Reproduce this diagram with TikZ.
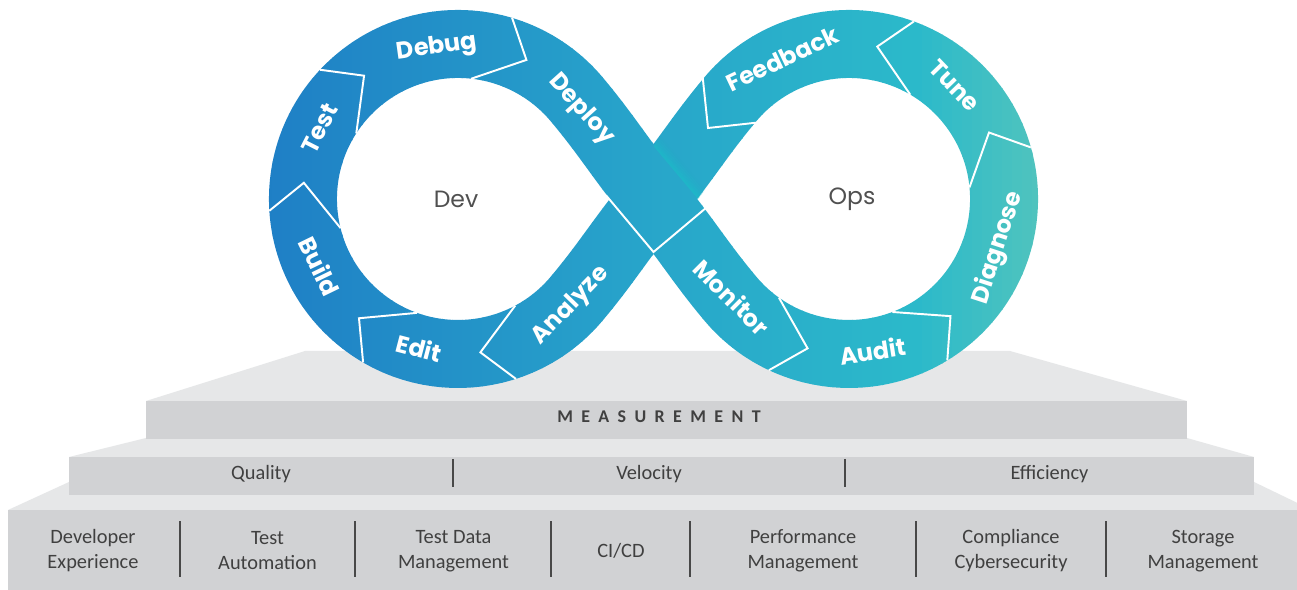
\documentclass[tikz,border=0pt]{standalone}
\usepackage{fontspec}
\setmainfont{Carlito}
\newfontfamily\labfont{Poppins}
\definecolor{topface}{RGB}{230,231,232}
\definecolor{frontface}{RGB}{209,210,212}
\definecolor{steptext}{RGB}{64,64,64}
\definecolor{sepgray}{RGB}{72,72,72}
\definecolor{devgray}{RGB}{80,80,80}
\definecolor{shadowc}{RGB}{24,192,200}
\def\loopPath{(653.5,-199) to[out=230,in=50] (576.7,-298.6) arc[start angle=-40,end angle=-320,radius=155] to[out=-50,in=130] (653.5,-199) to[out=-50,in=130] (730.3,-298.6) arc[start angle=220,end angle=500,radius=155] to[out=230,in=50] (653.5,-199)}
\begin{document}
\begin{tikzpicture}[x=0.02cm,y=0.02cm,
  band/.style={line width=1.36cm},
  sep/.style={draw=white, line width=1.1pt, line join=miter},
  lab/.style={text=white, font=\labfont\bfseries\fontsize{13.6}{15}\selectfont, inner sep=0pt, text height=9.5pt, text depth=0pt},
  rowsep/.style={draw=sepgray, line width=1.3pt},
  steptxt/.style={text=steptext, font=\fontsize{11.6}{14.2}\selectfont, align=center, inner sep=0pt},
  loopname/.style={text=devgray, font=\labfont\fontsize{13.4}{15}\selectfont, inner sep=0pt}]
\useasboundingbox (0,0) rectangle (1297,-590);
\fill[white] (0,0) rectangle (1297,-590);
% ---------- steps ----------
\fill[topface] (8,-510) -- (69,-482) -- (1254,-482) -- (1312,-510) -- cycle;
\fill[frontface] (8,-510) rectangle (1320,-595);
\fill[topface] (69,-457) -- (146,-438) -- (1187,-438) -- (1254,-457) -- cycle;
\fill[frontface] (69,-457) rectangle (1254,-495);
\fill[topface] (146,-401) -- (305,-351) -- (1010,-351) -- (1187,-401) -- cycle;
\fill[frontface] (146,-401) rectangle (1187,-439);
% step texts
\node[text=steptext, font=\bfseries\fontsize{10.2}{12}\selectfont\addfontfeatures{LetterSpace=47}, inner sep=0pt] (meas) at (659,-416.5) {MEASUREMENT};
\node[steptxt] (quality) at (261,-474) {Quality};
\node[steptxt] (velocity) at (649,-474) {Velocity};
\node[steptxt] (efficiency) at (1049.5,-474) {Efficiency};
\draw[rowsep] (453,-459) -- (453,-487);
\draw[rowsep] (845,-459) -- (845,-487);
\node[steptxt] (devexp) at (93,-551) {Developer\\Experience};
\node[steptxt] (testauto) at (267.5,-551) {Test\\Automation};
\node[steptxt] (tdm) at (453.5,-551) {Test Data\\Management};
\node[steptxt] (cicd) at (621,-551) {CI/CD};
\node[steptxt] (perf) at (803,-551) {Performance\\Management};
\node[steptxt] (compl) at (1011,-551) {Compliance\\Cybersecurity};
\node[steptxt] (storage) at (1203,-551) {Storage\\Management};
\foreach \sx in {180,355,551,690,916,1106}
  \draw[rowsep] (\sx,-521) -- (\sx,-577);
% ---------- infinity band with horizontal gradient ----------
\coordinate (L) at (458,-199);
\coordinate (R) at (849,-199);
\coordinate (X) at (653.5,-199);
\foreach \i in {0,...,79} {
  \pgfmathsetmacro{\xa}{262+10*\i}
  \pgfmathsetmacro{\fa}{(\xa+5-270)/380}
  \pgfmathsetmacro{\fb}{(\xa+5-650)/270}
  \pgfmathsetmacro{\fc}{(\xa+5-920)/120}
  \pgfmathsetmacro{\sel}{\xa+5<650 ? 0 : (\xa+5<920 ? 1 : 2)}
  \pgfmathtruncatemacro{\cR}{\sel<0.5 ? 31+9*\fa : (\sel<1.5 ? 40+4*\fb : 44+36*\fc)}
  \pgfmathtruncatemacro{\cG}{\sel<0.5 ? 128+38*\fa : (\sel<1.5 ? 166+20*\fb : 186+10*\fc)}
  \pgfmathtruncatemacro{\cB}{\sel<0.5 ? 198+5*\fa : (\sel<1.5 ? 203-1*\fb : 202-12*\fc)}
  \definecolor{bandc}{RGB}{\cR,\cG,\cB}
  \begin{scope}
    \clip (\xa,15) rectangle (\xa+10.6,-420);
    \draw[band, draw=bandc] \loopPath;
  \end{scope}
}
% shadow where the lower band passes under the upper band
\begin{scope}
  \clip (653.5,-146.1) -- (697.9,-199) -- (707,-188.1) -- (662.6,-135.2) -- cycle;
  \foreach \o/\op in {1/0.55,3/0.4,5/0.28,7/0.17,9/0.09,11/0.04}
    \draw[shadowc, line width=1.2pt, opacity=\op, shift={(\o*0.766,\o*0.643)}] (647.1,-138.4) -- (704.3,-206.7);
\end{scope}
% ---------- separators (chevrons) ----------
\foreach \t in {63.8,127.3,174,230.3,278.3}
  \draw[sep, shift={(L)}] ({\t+9.56}:189) -- (\t:155) -- ({\t+19.93}:121);
\foreach \t in {254.5,310.9,25.4,79.5}
  \draw[sep, shift={(R)}] ({\t-9.56}:189) -- (\t:155) -- ({\t-19.93}:121);
\draw[sep] (758,-122.5) -- (708,-128) -- (702.5,-75.4);
\draw[sep] (606,-195.3) -- (653.5,-252) -- (709,-205.4);
% ---------- band labels ----------
\node[lab, rotate=7.9] (tDebug) at (436.7,-45.5) {Debug};
\node[lab, rotate=63] (tTest) at (319.9,-128.6) {Test};
\node[lab, rotate=-64.1] (tBuild) at (318.5,-266.7) {Build};
\node[lab, rotate=-14.6] (tEdit) at (418.9,-349) {Edit};
\node[lab, rotate=46] (tAnalyze) at (569,-304) {Analyze};
\node[lab, rotate=-48] (tDeploy) at (583,-108) {Deploy};
\node[lab, rotate=-45] (tMonitor) at (731,-298) {Monitor};
\node[lab, rotate=8.8] (tAudit) at (872.7,-352.2) {Audit};
\node[lab, rotate=71.9] (tDiagnose) at (996.3,-247.2) {Diagnose};
\node[lab, rotate=-46] (tTune) at (954.7,-85.6) {Tune};
\node[lab, rotate=25.4] (tFeedback) at (782.5,-59) {Feedback};
% ---------- loop names ----------
\node[loopname] (dev) at (456,-199) {Dev};
\node[loopname] (ops) at (852,-199) {Ops};
\end{tikzpicture}
\end{document}
